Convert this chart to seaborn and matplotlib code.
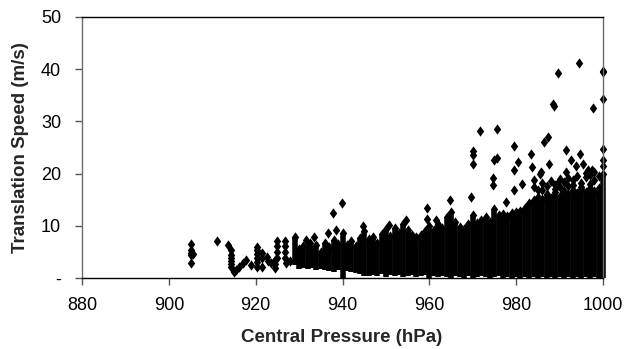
import pandas as pd
import matplotlib.pyplot as plt
import seaborn as sns

# --- data ---
# dense columns: pressure (hPa), lower and upper edge of the solid block (m/s)
band_pressure = list(range(929, 1001))
band_low = [2.4, 1.8, 2.0, 1.8, 2.0, 1.6, 1.8, 1.6, 1.4, 1.2, 1.6, 0.0, 1.4, 1.2, 1.0, 0.8,
            0.4, 0.4, 0.6, 0.4, 0.8, 0.2, 0.6, 0.4, 0.6, 0.2, 0.4, 0.6, 0.2, 0.4, 0.6, 0.0,
            0.4, 0.2, 0.4, 0.2, 0.0, 0.4, 0.2, 0.0, 0.4, 0.0, 0.2, 0.4, 0.2, 0.0, 0.2, 0.4,
            0.0, 0.2, 0.0, 0.2, 0.0, 0.2, 0.0, 0.2, 0.0, 0.2, 0.0, 0.2, 0.0, 0.2, 0.0, 0.2,
            0.0, 0.2, 0.0, 0.2, 0.0, 0.2, 0.0, 0.0]
band_high = [7.9, 5.5, 6.2, 6.0, 5.4, 6.4, 5.0, 6.8, 6.0, 7.2, 6.6, 8.6, 6.4, 7.0, 6.2, 7.6,
             9.0, 7.4, 7.8, 6.8, 8.4, 9.4, 8.0, 9.6, 8.6, 10.4, 9.2, 8.2, 7.8, 8.2, 9.0, 10.0,
             9.2, 10.4, 9.6, 11.6, 12.6, 10.8, 9.8, 9.4, 10.4, 12.0, 10.6, 11.2, 11.6, 10.8, 13.2, 12.0,
             12.2, 11.8, 12.4, 12.6, 12.8, 13.4, 14.4, 15.0, 15.6, 15.2, 16.0, 15.4, 16.4, 15.8, 16.6, 16.0,
             16.8, 16.2, 17.0, 16.4, 17.2, 16.6, 16.2, 20.0]

# individual points (sparse stacks and outliers)
pt_pressure = [905, 905, 905, 905.6, 905, 905, 911,
               913.6, 914.4, 914.4, 914.4, 914.4, 914.4, 914.4, 915, 915.5, 916.2, 917, 917.8,
               919, 920.2, 920.2, 920.2, 920.2, 920.2, 920.2, 921.5, 921.5, 921.5, 922.6, 922.8,
               923.5, 924.5, 924.5, 924.5, 925, 925, 925, 925, 926.8, 926.8, 926.8, 926.8, 927, 928,
               931.6, 932.5, 933.5, 936.6, 937.8, 939.9, 938.5, 944.7, 950.8, 954.6, 959.5, 959.5,
               961.5, 946, 964.7, 969.7, 970, 970, 970, 971.6, 975.6, 974.8, 975.6, 974.6, 974.6,
               977.6, 979.6, 980.5, 979.6, 979.5, 981.4, 983.5, 983.6, 984, 985.5, 985.8, 986.5,
               987.4, 987.5, 988.4, 988.8, 989.6, 989.5, 991.4, 991.4, 992.6, 993.7, 994.6, 994.5,
               995.5, 996.6, 997.5, 997.6, 1000, 1000, 1000, 1000, 1000, 1000, 981.7,
               984, 985, 986, 988, 989, 990, 991, 992, 993, 994, 995, 996, 997, 998, 999,
               996, 998, 987, 990, 993, 997, 999, 986, 989, 992, 995]
pt_speed = [6.6, 5.4, 4.8, 4.6, 4.4, 2.8, 7.0,
            6.3, 5.4, 4.4, 3.8, 3.2, 2.6, 2.2, 1.2, 1.6, 2.2, 2.8, 3.4,
            2.5, 6.0, 5.4, 4.6, 3.8, 3.0, 2.2, 4.8, 3.8, 2.2, 4.0, 3.2,
            2.9, 3.4, 2.6, 1.9, 7.0, 6.2, 5.0, 3.8, 7.0, 6.2, 5.0, 3.8, 2.8, 3.2,
            7.3, 6.7, 7.9, 8.6, 12.4, 14.3, 9.2, 10.0, 10.2, 11.1, 13.5, 11.4,
            11.1, 7.3, 14.9, 15.6, 24.3, 23.5, 21.8, 28.2, 28.5, 22.6, 23.0, 19.1, 17.8,
            14.6, 25.2, 22.3, 20.7, 16.9, 18.1, 23.8, 21.3, 18.8, 20.0, 20.4, 26.1,
            27.1, 21.8, 33.3, 33.0, 39.2, 18.1, 24.5, 20.4, 22.6, 21.5, 23.8, 41.2,
            21.8, 20.7, 20.7, 32.6, 39.7, 39.4, 34.2, 24.8, 22.6, 21.4, 12.7,
            17.5, 16.8, 18.2, 18.6, 17.8, 19.0, 18.4, 19.2, 18.8, 19.6, 18.2, 19.4, 19.8, 18.8, 19.6,
            20.2, 20.4, 17.6, 17.4, 17.8, 18.0, 17.2, 16.8, 17.0, 17.6, 17.4]

y_ticks = [0, 10, 20, 30, 40, 50]
y_ticklabels = ['-', '10', '20', '30', '40', '50']
x_ticks = [880, 900, 920, 940, 960, 980, 1000]

points = pd.DataFrame({'pressure': pt_pressure, 'speed': pt_speed})

sns.set_style('ticks')
plt.rcParams['font.family'] = ['Liberation Sans', 'DejaVu Sans']

# slightly tall diamond, like the spreadsheet marker
diamond = [(0, 1), (0.72, 0), (0, -1), (-0.72, 0), (0, 1)]

fig = plt.figure(figsize=(6.31, 3.49), dpi=100)
ax = fig.add_axes([0.130, 0.2034, 0.8256, 0.7479])

# solid blocks where the markers overlap completely
ax.vlines(band_pressure, band_low, band_high, color='black', linewidth=4.0, clip_on=False)
sns.scatterplot(x=band_pressure, y=band_high, ax=ax, marker=diamond, s=55,
                color='black', linewidth=0, legend=False, clip_on=False)
sns.scatterplot(data=points, x='pressure', y='speed', ax=ax, marker=diamond, s=55,
                color='black', linewidth=0, legend=False, clip_on=False)

ax.set_xlim(880, 1000)
ax.set_ylim(0, 50)
ax.set_xticks(x_ticks)
ax.set_yticks(y_ticks)
ax.set_yticklabels(y_ticklabels)
ax.set_xlabel('')
ax.set_ylabel('')
ax.tick_params(axis='x', direction='out', length=5, width=1, pad=9, labelsize=13,
               color='#555555', labelcolor='black')
ax.tick_params(axis='y', direction='out', length=5, width=1, pad=10, labelsize=13,
               color='#555555', labelcolor='black')

for side in ['left', 'right']:
    ax.spines[side].set_visible(True)
    ax.spines[side].set_color('#6b6b6b')
    ax.spines[side].set_linewidth(1.0)
for side in ['top', 'bottom']:
    ax.spines[side].set_visible(True)
    ax.spines[side].set_color('black')
    ax.spines[side].set_linewidth(1.0)

fig.text(21 / 631, 1 - 147.5 / 349, 'Translation Speed (m/s)', rotation=90,
         ha='center', va='center', fontsize=13.5, fontweight='bold')
fig.text(342 / 631, 1 - 337 / 349, 'Central Pressure (hPa)',
         ha='center', va='center', fontsize=13.5, fontweight='bold')

fig.savefig('out.png', dpi=100)
